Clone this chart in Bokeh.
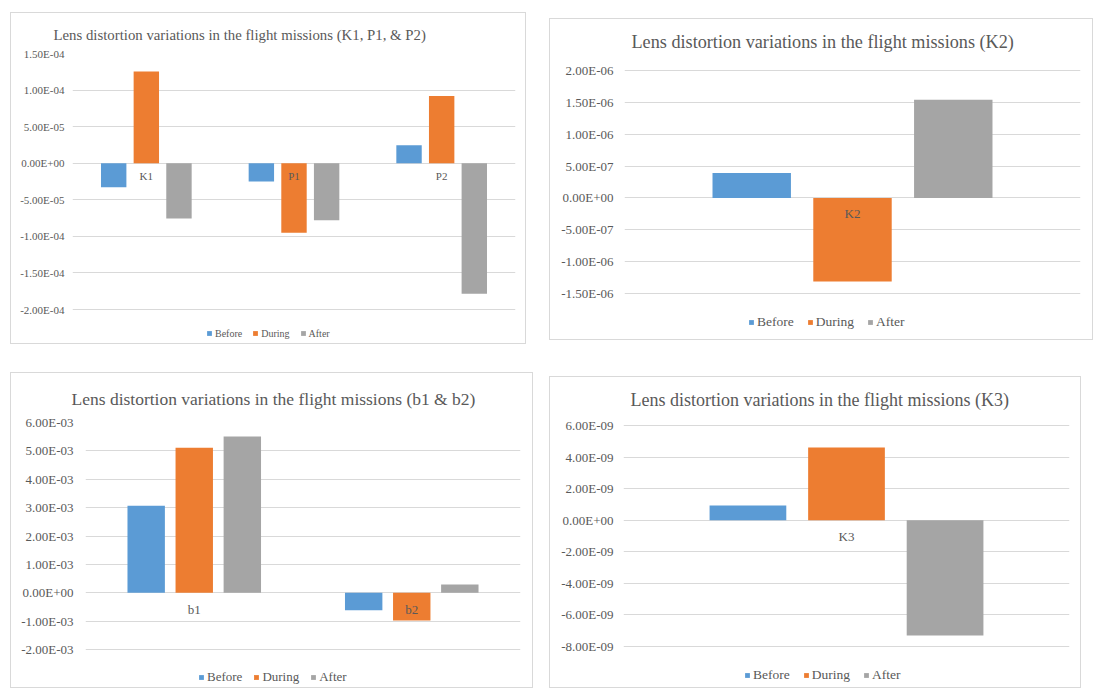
from bokeh.plotting import figure
from bokeh.models import (FactorRange, Range1d, FixedTicker, CustomJSTickFormatter,
                          Legend, LegendItem, Spacer, Label, Title)
from bokeh.layouts import row, column
from bokeh.transform import dodge
from bokeh.core.properties import value
from bokeh.embed import file_html
from bokeh.resources import INLINE

# ---- data -----------------------------------------------------------------
series = ["Before", "During", "After"]

kp_params = ["K1", "P1", "P2"]
kp_before = [-3.3e-5, -2.5e-5, 2.45e-5]
kp_during = [1.255e-4, -9.5e-5, 9.2e-5]
kp_after = [-7.55e-5, -7.8e-5, -1.785e-4]
kp_ticks = [-2.0e-4, -1.5e-4, -1.0e-4, -5.0e-5, 0.0, 5.0e-5, 1.0e-4, 1.5e-4]

k2_params = ["K2"]
k2_before = [3.9e-7]
k2_during = [-1.31e-6]
k2_after = [1.54e-6]
k2_ticks = [-1.5e-6, -1.0e-6, -5.0e-7, 0.0, 5.0e-7, 1.0e-6, 1.5e-6, 2.0e-6]

b_params = ["b1", "b2"]
b_before = [3.07e-3, -6.1e-4]
b_during = [5.11e-3, -9.7e-4]
b_after = [5.51e-3, 2.9e-4]
b_ticks = [-2.0e-3, -1.0e-3, 0.0, 1.0e-3, 2.0e-3, 3.0e-3, 4.0e-3, 5.0e-3, 6.0e-3]

k3_params = ["K3"]
k3_before = [0.93e-9]
k3_during = [4.6e-9]
k3_after = [-7.3e-9]
k3_ticks = [-8.0e-9, -6.0e-9, -4.0e-9, -2.0e-9, 0.0, 2.0e-9, 4.0e-9, 6.0e-9]

# ---- styling --------------------------------------------------------------
FONT = "Liberation Serif"
TEXT = "#595959"
GRID = "#D9D9D9"
COLORS = ["#5B9BD5", "#ED7D31", "#A5A5A5"]
BAR_W = 0.172
BAR_STEP = 0.221
EDGE = 2  # px kept free above and under the frame

SCI = CustomJSTickFormatter(code="""
    const s = tick.toExponential(2);
    const parts = s.split('e');
    let e = parseInt(parts[1]);
    const sign = e < 0 ? '-' : '+';
    e = Math.abs(e);
    return parts[0] + 'E' + sign + (e < 10 ? '0' : '') + e;
""")


def build_panel(title, params, before, during, after, ticks, size, margins,
                title_font, title_dx, title_dy, title_in_frame,
                tick_font, tick_standoff, cat_font, cat_offset,
                leg_font, leg_x, leg_dist, leg_spacing):
    w, h = size
    left, right, top, bottom = margins
    # the frame also covers the legend strip (and, when the title sits in
    # the frame, the title strip); the gridded value span ticks[0]..ticks[-1]
    # keeps its own pixel extent inside it
    grid_px = h - top - bottom
    span = ticks[-1] - ticks[0]
    below_px = bottom - EDGE
    above_px = (top - EDGE) if title_in_frame else 0
    y_low = ticks[0] - below_px / grid_px * span
    y_high = ticks[-1] + above_px / grid_px * span

    p = figure(x_range=FactorRange(*params, range_padding=0),
               y_range=Range1d(y_low, y_high),
               width=w, height=h, output_backend="svg", toolbar_location=None,
               min_border_left=left, min_border_right=right,
               min_border_top=EDGE if title_in_frame else top,
               min_border_bottom=EDGE,
               background_fill_color="white", border_fill_color="white",
               outline_line_color=None,
               styles={"border": "1px solid #D9D9D9"})

    if title_in_frame:
        p.add_layout(Label(x=0, y=ticks[-1], x_offset=title_dx, y_offset=title_dy,
                           text=title, text_align="left", text_baseline="middle",
                           text_font=FONT, text_font_size=f"{title_font}px",
                           text_color=TEXT))
    else:
        p.title = Title(text=title, align="left", offset=title_dx,
                        standoff=title_dy, text_font=FONT,
                        text_font_size=f"{title_font}px",
                        text_font_style="normal", text_color=TEXT)

    data = {"cat": params, "Before": before, "During": during, "After": after}
    renderers = []
    for i, (name, color) in enumerate(zip(series, COLORS)):
        r = p.vbar(x=dodge("cat", (i - 1) * BAR_STEP, range=p.x_range),
                   top=name, bottom=0, width=BAR_W, source=data,
                   fill_color=color, line_color=None)
        renderers.append(r)

    # category names sit just under the zero line
    p.text(x=params, y=[0] * len(params), text=params, text_align="center",
           text_baseline="middle", y_offset=cat_offset,
           text_font=value(FONT), text_font_size=f"{cat_font}px",
           text_color=TEXT)

    p.xaxis.visible = False
    p.xgrid.grid_line_color = None
    p.ygrid.grid_line_color = GRID
    p.ygrid.grid_line_width = 1

    yaxis = p.yaxis[0]
    yaxis.ticker = FixedTicker(ticks=ticks)
    yaxis.formatter = SCI
    yaxis.axis_line_color = None
    yaxis.major_tick_line_color = None
    yaxis.minor_tick_line_color = None
    yaxis.major_tick_in = 0
    yaxis.major_tick_out = 0
    yaxis.major_label_standoff = tick_standoff
    yaxis.major_label_text_font = FONT
    yaxis.major_label_text_font_size = f"{tick_font}px"
    yaxis.major_label_text_color = TEXT

    leg_h = leg_font * 1.15
    leg_y = below_px - leg_dist - leg_h / 2
    legend = Legend(items=[LegendItem(label=s, renderers=[r])
                           for s, r in zip(series, renderers)],
                    orientation="horizontal", location=(leg_x, leg_y),
                    padding=0, margin=0, spacing=leg_spacing,
                    glyph_width=6, glyph_height=6, label_standoff=3,
                    label_height=12, label_text_font=FONT,
                    label_text_font_size=f"{leg_font}px",
                    label_text_color=TEXT, border_line_color=None,
                    background_fill_alpha=0)
    p.add_layout(legend)
    return p


p1 = build_panel("Lens distortion variations in the flight missions (K1, P1, & P2)",
                 kp_params, kp_before, kp_during, kp_after, kp_ticks,
                 size=(516, 332), margins=(61, 12, 40, 36),
                 title_font=14.8, title_dx=-19, title_dy=22, title_in_frame=False,
                 tick_font=11, tick_standoff=8, cat_font=11, cat_offset=13,
                 leg_font=10, leg_x=134, leg_dist=24.3, leg_spacing=10)

p2 = build_panel("Lens distortion variations in the flight missions (K2)",
                 k2_params, k2_before, k2_during, k2_after, k2_ticks,
                 size=(544, 322), margins=(74, 14, 51, 48),
                 title_font=18.2, title_dx=7, title_dy=29, title_in_frame=True,
                 tick_font=13, tick_standoff=11, cat_font=13, cat_offset=16,
                 leg_font=13.5, leg_x=124, leg_dist=29, leg_spacing=13)

p3 = build_panel("Lens distortion variations in the flight missions (b1 & b2)",
                 b_params, b_before, b_during, b_after, b_ticks,
                 size=(523, 316), margins=(74, 14, 48, 40),
                 title_font=17.5, title_dx=-14, title_dy=27, title_in_frame=False,
                 tick_font=13, tick_standoff=12, cat_font=13, cat_offset=17,
                 leg_font=13, leg_x=113, leg_dist=28.5, leg_spacing=11)

p4 = build_panel("Lens distortion variations in the flight missions (K3)",
                 k3_params, k3_before, k3_during, k3_after, k3_ticks,
                 size=(532, 312), margins=(73, 13, 48, 43),
                 title_font=18, title_dx=7, title_dy=25.5, title_in_frame=True,
                 tick_font=13, tick_standoff=10, cat_font=13, cat_offset=16,
                 leg_font=13.5, leg_x=121, leg_dist=29.5, leg_spacing=13)

top_row = row(Spacer(width=10, height=10),
              column(Spacer(width=10, height=12), p1),
              Spacer(width=23, height=10),
              column(Spacer(width=10, height=18), p2))
bottom_row = row(Spacer(width=10, height=10),
                 column(Spacer(width=10, height=28), p3),
                 Spacer(width=16, height=10),
                 column(Spacer(width=10, height=32), p4))
layout = column(top_row, bottom_row)

open("out.html", "w").write(file_html(layout, INLINE))
